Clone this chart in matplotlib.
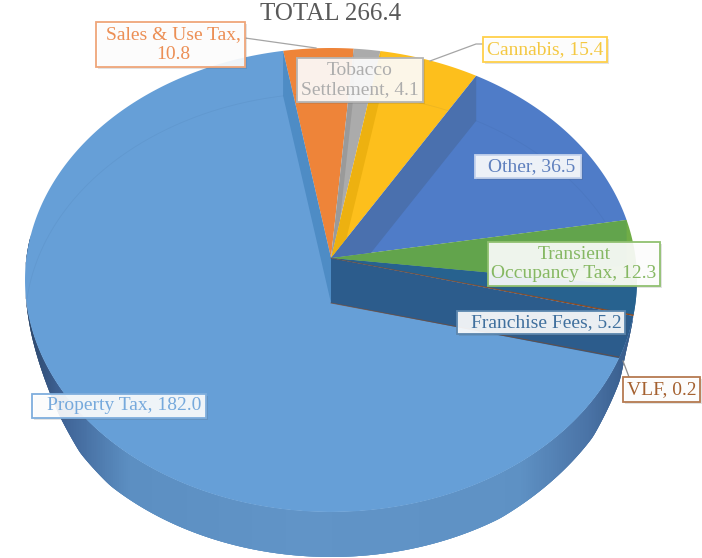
import numpy as np
import matplotlib
matplotlib.use('Agg')
import matplotlib.pyplot as plt
from matplotlib.patches import Polygon, Rectangle

plt.rcParams['font.family'] = ['Liberation Serif', 'DejaVu Serif']

# slices, clockwise from the top
names = ['Sales & Use Tax,\n', 'Tobacco\nSettlement, ', 'Cannabis, ', 'Other, ',
         'Transient\nOccupancy Tax, ', 'Franchise Fees, ', 'VLF, ', 'Property Tax, ']
values = [10.8, 4.1, 15.4, 36.5, 12.3, 5.2, 0.2, 182.0]
total_label = 'TOTAL 266.4'

face_colors = ['#EE8439', '#ABABAB', '#FDBF1C', '#4F7CC8', '#70AD47', '#2A6594', '#9E480E', '#669FD7']
wall_colors = ['#EE8439', '#9A9A9A', '#EDB110', '#4A70AE', '#62A44C', '#27628F', '#9E480E', '#2C5C8C']
text_colors = ['#EC8F55', '#ADADAD', '#F4C842', '#5F80BE', '#86B863', '#40709E', '#A4602F', '#76A9DC']
border_colors = ['#EFA67A', '#B5B5B5', '#FFD04A', '#C5D3EC', '#90C070', '#5B86AE', '#B57A50', '#7FAEDD']
label_boxes = [(96, 22, 245, 67), (297, 58, 423, 102), (483, 37, 607, 62), (475, 155, 581, 178),
               (488, 242, 660, 286), (457, 311, 625, 334), (623, 377, 700, 402), (32, 394, 206, 418)]
text_dx = [3, 0, 0, 4, 0, 5, 0, 5]

# pie plane seen in perspective: the centre sits above the middle of the ellipse
CX, CY = 331, 258
A, B, K = 229.9, 304.6, 0.0948
DEPTH = 45
START = -9.9


def project(theta, drop=0):
    t = np.radians(theta)
    w = 1 + K * np.cos(t)
    return CX + B * np.sin(t) / w, CY - A * np.cos(t) / w + drop


def arc(a, b, drop=0):
    th = np.linspace(a, b, max(int(abs(b - a) * 2), 2))
    x, y = project(th, drop)
    return np.column_stack([x, y])


def wall(theta):
    return [(CX, CY), project(theta), project(theta, DEPTH), (CX, CY + DEPTH)]


fig = plt.figure(figsize=(7.02, 5.58), dpi=100)
ax = fig.add_axes([0, 0, 1, 1])
ax.set_xlim(0, 702)
ax.set_ylim(558, 0)
ax.axis('off')

fracs = np.array(values) / np.sum(values) * 360
edges = START + np.concatenate([[0], np.cumsum(fracs)])

# outer wall of the big slice: dark towards both ends, thinning out at the sides
th = np.arange(edges[-2], 275, 0.5)
xs_stop = [25, 60, 130, 300, 520, 590, 640]
r_stop = [0.17, 0.24, 0.36, 0.38, 0.37, 0.29, 0.20]
g_stop = [0.27, 0.38, 0.56, 0.58, 0.57, 0.45, 0.34]
b_stop = [0.40, 0.58, 0.76, 0.78, 0.77, 0.65, 0.52]
drop_x = [25, 31, 60, 80, 110, 500, 593, 620, 626, 634]
drop_y = [0, 7, 29, 40, 45, 45, 37, 24, 10, 0]


def drop_at(theta):
    return np.interp(project(theta)[0], drop_x, drop_y)


for a, b in zip(th[:-1], th[1:]):
    b2 = b + 1
    p = [project(a), project(b2), project(b2, drop_at(b2)), project(a, drop_at(a))]
    xm = p[0][0]
    col = (np.interp(xm, xs_stop, r_stop), np.interp(xm, xs_stop, g_stop), np.interp(xm, xs_stop, b_stop))
    ax.add_patch(Polygon(p, closed=True, fc=col, ec='none', zorder=1))

for i in range(len(values)):
    a, b = edges[i], edges[i + 1]
    wedge = Polygon(np.vstack([[CX, CY], arc(a, b)]), closed=True, fc=face_colors[i], ec='none', zorder=2)
    ax.add_patch(wedge)
    w = Polygon(wall(a), closed=True, fc=wall_colors[i], ec='none', zorder=3)
    ax.add_patch(w)
    w.set_clip_path(wedge)
    # faint rim of the lower surface showing through
    rim = arc(a, b, DEPTH)
    ln, = ax.plot(rim[:, 0], rim[:, 1], color='#1F3F66', lw=0.6, alpha=0.07, zorder=4)
    ln.set_clip_path(wedge)
    if i == len(values) - 1:
        w2 = Polygon(wall(b), closed=True, fc='#4E8CC5', ec='none', zorder=3)
        ax.add_patch(w2)
        w2.set_clip_path(wedge)

# thin line of the smallest slice, on both levels
vlf = edges[6]
x1, y1 = project(vlf)
x2, y2 = project(vlf, DEPTH)
ax.plot([CX, x1], [CY, y1], color='#7A4A30', lw=0.7, alpha=0.7, zorder=5)
seam, = ax.plot([CX, x2], [CY + DEPTH, y2], color='#7A4A30', lw=0.7, alpha=0.7, zorder=5)
seam.set_clip_path(Polygon(np.vstack([[CX, CY], arc(edges[0], edges[0] + 360)]), closed=True, transform=ax.transData))

# leader lines
ax.plot([245, 316], [38, 48], color='#A5A5A5', lw=0.9, zorder=6)
ax.plot([483, 476, 430], [44, 44, 61], color='#A5A5A5', lw=0.9, zorder=6)
ax.plot([629, 623], [377, 361], color='#8C8C8C', lw=0.9, zorder=6)

for i, name in enumerate(names):
    x0, y0, x1, y1 = label_boxes[i]
    ax.add_patch(Rectangle((x0 + 2, y0 + 2), x1 - x0, y1 - y0, fc='#555555', ec='none', alpha=0.16, zorder=7))
    ax.add_patch(Rectangle((x0, y0), x1 - x0, y1 - y0, fc=(1, 1, 1, 0.9), ec=border_colors[i], lw=1.3, zorder=8))
    ax.text((x0 + x1) / 2 + text_dx[i], (y0 + y1) / 2, f'{name}{values[i]:.1f}', color=text_colors[i], fontsize=14,
            ha='center', va='center', linespacing=1.17, zorder=9)

ax.text(331, 14, total_label, color='#595959', fontsize=18, ha='center', va='center', zorder=9)

fig.savefig('out.png', dpi=100)
